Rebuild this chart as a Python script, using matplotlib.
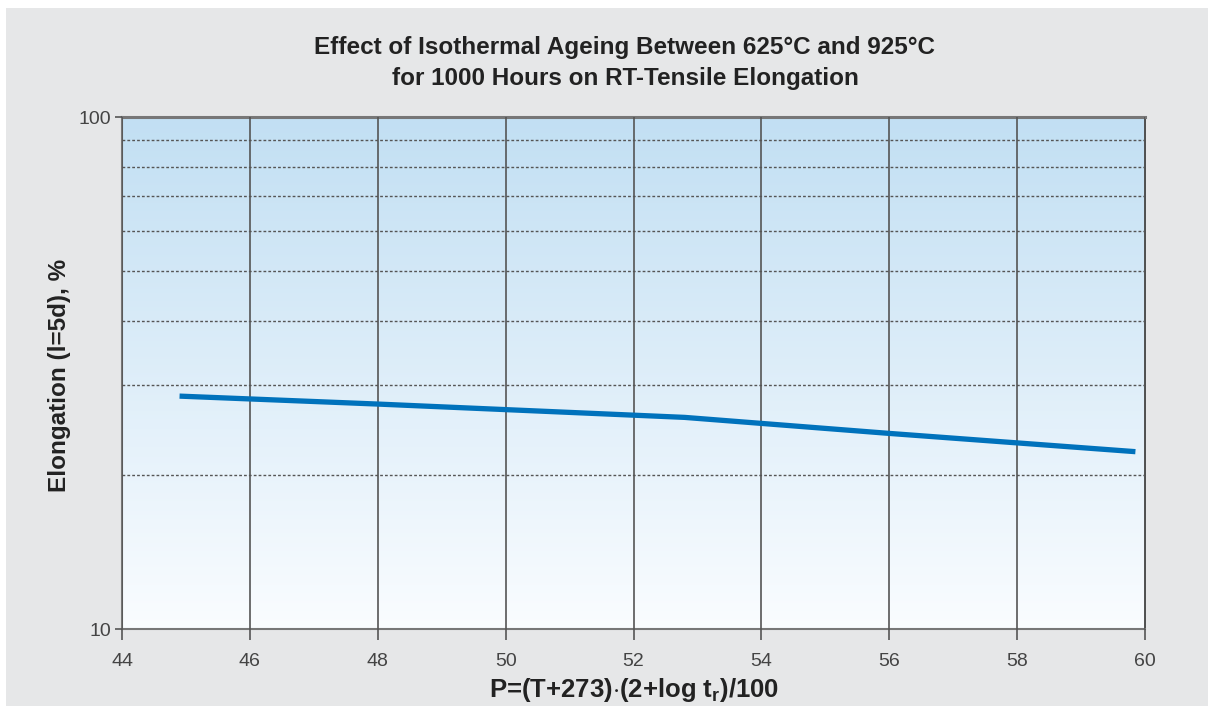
import numpy as np
import matplotlib
matplotlib.use("Agg")
import matplotlib.pyplot as plt
from matplotlib.patches import Rectangle
from matplotlib.ticker import FixedLocator, NullFormatter

# values
p_param = [44.9, 48.0, 52.8, 56.0, 59.85]
elongation = [28.5, 27.5, 25.9, 24.1, 22.2]
x_ticks = [44, 46, 48, 50, 52, 54, 56, 58, 60]
y_major = [10, 100]
y_minor = [20, 30, 40, 50, 60, 70, 80, 90]

title = "Effect of Isothermal Ageing Between 625°C and 925°C\nfor 1000 Hours on RT-Tensile Elongation"
xlabel = r"P=(T+273)$\mathbf{\cdot}$(2+log t$_\mathbf{r}$)/100"
ylabel = "Elongation (l=5d), %"

plt.rcParams['font.family'] = ['Liberation Sans Narrow', 'Liberation Sans', 'DejaVu Sans']
plt.rcParams['mathtext.fontset'] = 'custom'
plt.rcParams['mathtext.rm'] = 'Liberation Sans:bold'
plt.rcParams['mathtext.bf'] = 'Liberation Sans:bold'

W, H = 1208, 706
fig = plt.figure(figsize=(W / 100, H / 100), dpi=100)
fig.patch.set_facecolor('white')
fig.patches.append(Rectangle((6 / W, 0), 1, 1 - 8 / H, transform=fig.transFigure,
                             facecolor='#e6e7e8', edgecolor='none', zorder=-10))

ax = fig.add_axes([122 / W, (H - 629) / H, (1145 - 122) / W, (629 - 117) / H])
ax.set_xlim(44, 60)
ax.set_yscale('log')
ax.set_ylim(10, 100)

# vertical gradient background
grad = np.linspace(0, 1, 256).reshape(-1, 1, 1)
top = np.array([0.76, 0.875, 0.953])
bot = np.array([0.98, 0.99, 1.0])
img = bot + (top - bot) * grad
ax.imshow(img, extent=[0, 1, 0, 1], transform=ax.transAxes, origin='lower',
          aspect='auto', zorder=0)

# grid
ax.xaxis.set_major_locator(FixedLocator(x_ticks))
ax.yaxis.set_major_locator(FixedLocator(y_major))
ax.yaxis.set_minor_locator(FixedLocator(y_minor))
ax.yaxis.set_minor_formatter(NullFormatter())
ax.set_yticklabels(['10', '100'])
ax.grid(True, axis='x', which='major', color='#555555', linewidth=1.2, zorder=1)
ax.grid(True, axis='y', which='minor', color='#555555', linewidth=1.0,
        linestyle=(0, (2, 1.5)), zorder=1)
ax.set_axisbelow(False)

ax.plot(p_param, elongation, color='#0072bc', linewidth=3.8,
        solid_capstyle='butt', zorder=3)

for s in ['left', 'bottom']:
    ax.spines[s].set_color('#777777')
    ax.spines[s].set_linewidth(1.5)
ax.spines['top'].set_color('#777777')
ax.spines['top'].set_linewidth(2.2)
ax.spines['right'].set_color('#333333')
ax.spines['right'].set_linewidth(1.2)

ax.tick_params(axis='x', which='major', direction='out', length=8, width=1.2,
               color='#555555', labelsize=14, labelcolor='#444444', pad=9)
ax.tick_params(axis='y', which='major', direction='out', length=5, width=1.2,
               color='#555555', labelsize=14, labelcolor='#444444', pad=3)
ax.tick_params(axis='y', which='minor', length=0)

fig.text(625 / W, 1 - 63 / H, title, ha='center', va='center', fontsize=17.5,
         fontweight='bold', color='#222222', linespacing=1.45)
fig.text(634 / W, 1 - 690 / H, xlabel, ha='center', va='center', fontsize=18.5,
         fontweight='bold', color='#222222')
fig.text(60 / W, 1 - 375 / H, ylabel, ha='center', va='center', fontsize=17.5,
         fontweight='bold', color='#222222', rotation=90)

fig.savefig('out.png', dpi=100)
